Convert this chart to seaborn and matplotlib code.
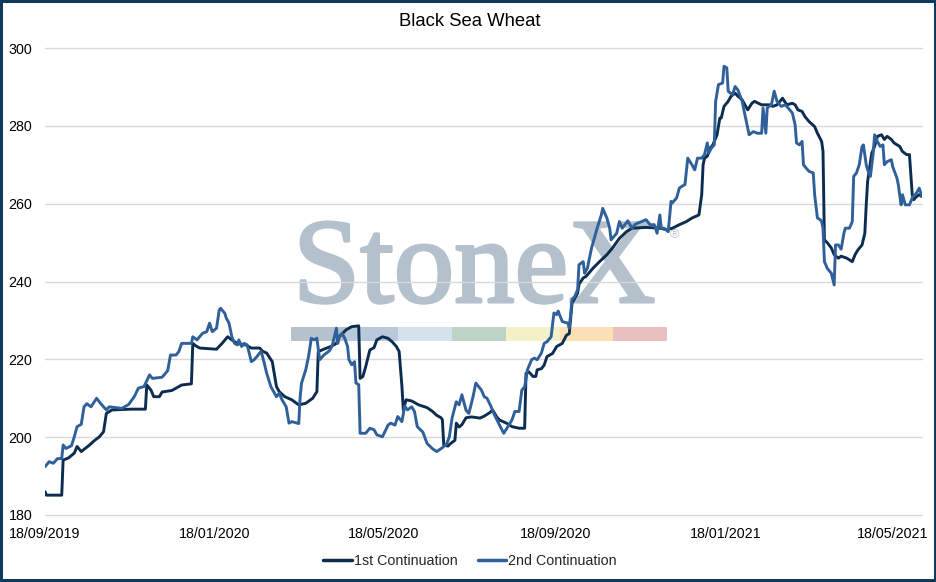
import matplotlib
matplotlib.use("Agg")
import matplotlib.pyplot as plt
import matplotlib.dates as mdates
import matplotlib.patheffects as pe
from matplotlib.patches import Rectangle
from matplotlib.lines import Line2D
import pandas as pd
import seaborn as sns

# ---------------- data ----------------
TITLE = "Black Sea Wheat"
SERIES_NAMES = ["1st Continuation", "2nd Continuation"]
START_DATE = "2019-09-18"          # day 0 of the day offsets below
END_DAY = 629                      # last day shown on the axis
TICK_DATES = ["2019-09-18", "2020-01-18", "2020-05-18",
              "2020-09-18", "2021-01-18", "2021-05-18"]
Y_TICKS = [180, 200, 220, 240, 260, 280, 300]

days_1st = [0, 1, 12, 13, 17, 21, 23, 26, 32, 35,
            39, 42, 44, 48, 62, 72, 73, 76, 78, 82,
            84, 91, 98, 105, 106, 108, 111, 123, 127, 131,
            134, 138, 144, 148, 154, 156, 159, 163, 166, 168,
            172, 177, 182, 187, 192, 195, 196, 202, 205, 209,
            211, 216, 220, 225, 226, 228, 230, 233, 236, 238,
            242, 246, 249, 252, 254, 256, 257, 259, 263, 268,
            274, 278, 281, 284, 285, 286, 289, 291, 294, 295,
            297, 299, 302, 306, 312, 315, 319, 321, 324, 326,
            331, 335, 340, 344, 345, 347, 350, 352, 353, 356,
            358, 360, 364, 367, 371, 374, 376, 378, 380, 382,
            383, 386, 388, 393, 398, 403, 407, 412, 417, 421,
            431, 441, 446, 450, 455, 460, 464, 469, 471, 472,
            473, 475, 477, 479, 482, 484, 485, 487, 490, 492,
            495, 497, 500, 502, 504, 507, 509, 511, 514, 518,
            520, 522, 525, 529, 532, 536, 538, 540, 543, 545,
            548, 552, 554, 557, 558, 559, 561, 564, 566, 569,
            571, 575, 579, 581, 583, 586, 588, 589, 590, 593,
            595, 597, 600, 602, 604, 607, 609, 613, 615, 618,
            620, 622, 623, 625, 627, 629]
price_1st = [186.0, 185.1, 185.1, 194.1, 194.7, 195.9, 197.6, 196.3, 198.0, 199.0,
             200.1, 201.4, 206.1, 207.0, 207.2, 207.2, 213.4, 212.1, 210.4, 210.4,
             211.6, 212.0, 213.4, 213.7, 224.1, 223.5, 222.9, 222.6, 224.1, 225.8,
             225.0, 224.1, 223.7, 222.9, 222.9, 222.1, 221.6, 219.4, 213.0, 211.7,
             210.4, 209.6, 208.3, 208.7, 210.0, 211.7, 222.0, 222.9, 223.3, 224.1,
             225.8, 227.6, 228.4, 228.6, 215.1, 215.6, 218.1, 222.4, 223.0, 225.0,
             225.8, 225.4, 224.5, 223.3, 222.0, 213.0, 207.0, 209.6, 209.3, 208.3,
             207.6, 206.6, 205.6, 205.0, 204.5, 198.0, 197.7, 198.4, 199.2, 203.6,
             202.6, 203.2, 205.0, 205.2, 204.9, 205.4, 206.3, 207.0, 205.2, 204.4,
             203.6, 202.7, 202.3, 202.3, 216.4, 216.8, 215.6, 215.6, 217.3, 217.6,
             218.5, 220.7, 221.5, 223.3, 224.1, 226.2, 226.6, 234.4, 235.7, 237.0,
             239.3, 240.9, 241.3, 243.4, 245.2, 246.9, 248.6, 251.1, 252.8, 253.7,
             253.9, 253.7, 253.3, 253.7, 254.6, 255.4, 256.3, 257.1, 262.3, 270.0,
             271.7, 272.2, 274.3, 275.1, 277.7, 282.0, 282.0, 285.0, 286.3, 287.6,
             288.4, 287.6, 286.7, 285.4, 284.1, 285.8, 286.3, 285.9, 285.4, 285.4,
             285.4, 285.0, 285.4, 287.1, 285.4, 285.8, 285.4, 284.1, 283.7, 282.4,
             281.1, 279.8, 278.1, 276.0, 273.4, 250.7, 250.0, 248.6, 246.9, 246.0,
             246.5, 246.0, 245.1, 246.9, 248.1, 249.4, 252.4, 259.7, 265.7, 273.0,
             274.7, 277.3, 277.7, 276.5, 277.3, 276.5, 275.6, 274.7, 273.4, 272.6,
             272.6, 262.3, 261.0, 261.8, 262.3, 261.8]

days_2nd = [0, 3, 6, 9, 12, 13, 15, 19, 21, 23,
            26, 28, 30, 33, 37, 40, 42, 44, 46, 55,
            60, 64, 67, 71, 75, 77, 84, 88, 90, 94,
            96, 98, 105, 106, 109, 113, 116, 118, 120, 123,
            125, 126, 129, 130, 132, 134, 136, 138, 139, 141,
            143, 145, 148, 150, 152, 155, 157, 159, 162, 166,
            168, 170, 173, 175, 177, 182, 183, 184, 187, 189,
            191, 193, 195, 197, 200, 204, 206, 209, 210, 211,
            213, 215, 217, 218, 220, 222, 223, 225, 226, 230,
            233, 236, 238, 242, 245, 246, 248, 251, 253, 256,
            258, 260, 263, 265, 267, 271, 274, 278, 281, 285,
            288, 290, 292, 295, 297, 299, 302, 304, 307, 309,
            313, 315, 317, 320, 322, 326, 329, 332, 335, 337,
            340, 342, 344, 346, 349, 351, 353, 356, 358, 360,
            363, 365, 367, 368, 371, 375, 376, 378, 380, 382,
            383, 386, 387, 389, 392, 394, 396, 399, 400, 403,
            405, 406, 410, 412, 414, 418, 421, 423, 425, 428,
            431, 434, 437, 439, 441, 442, 444, 447, 449, 450,
            453, 455, 457, 459, 461, 464, 466, 468, 471, 473,
            475, 476, 478, 480, 481, 483, 486, 487, 489, 490,
            493, 495, 497, 500, 503, 505, 508, 511, 514, 515,
            517, 518, 521, 523, 525, 528, 531, 533, 536, 538,
            539, 541, 543, 544, 546, 548, 551, 552, 554, 556,
            557, 558, 559, 560, 561, 564, 566, 567, 569, 571,
            573, 574, 577, 579, 580, 582, 584, 586, 587, 589,
            590, 592, 594, 595, 597, 599, 601, 602, 604, 607,
            608, 611, 612, 614, 615, 617, 620, 622, 623, 625,
            627, 629]
price_2nd = [192.4, 193.7, 193.3, 194.5, 194.5, 198.0, 197.1, 197.8, 200.1, 202.7,
             203.3, 207.8, 208.6, 207.8, 210.0, 208.6, 207.8, 207.0, 207.8, 207.4,
             208.4, 210.4, 212.6, 213.0, 216.0, 215.1, 215.4, 217.1, 221.1, 221.1,
             222.0, 224.1, 224.1, 225.8, 225.0, 226.7, 227.1, 229.3, 227.1, 228.0,
             232.7, 233.1, 231.8, 230.6, 229.3, 225.8, 224.1, 223.7, 225.0, 223.3,
             224.1, 223.7, 219.4, 219.9, 220.7, 222.1, 219.4, 216.4, 213.0, 210.4,
             211.3, 209.6, 207.8, 203.6, 204.0, 203.5, 210.4, 213.9, 217.3, 220.7,
             225.4, 225.0, 225.4, 219.9, 221.1, 222.2, 223.5, 228.0, 224.1, 225.8,
             226.7, 225.4, 223.3, 219.9, 218.6, 219.4, 213.9, 213.5, 201.0, 201.0,
             202.3, 201.9, 200.6, 200.1, 202.3, 203.1, 203.6, 203.1, 205.3, 204.0,
             208.0, 207.0, 207.8, 206.6, 202.7, 201.3, 198.4, 197.0, 196.3, 197.3,
             198.2, 200.1, 205.0, 209.1, 208.3, 210.9, 206.9, 206.1, 210.4, 213.9,
             212.1, 210.4, 210.0, 207.8, 206.0, 203.1, 201.0, 202.7, 204.5, 206.6,
             206.6, 212.1, 212.9, 217.3, 219.9, 220.3, 219.9, 221.6, 224.1, 224.5,
             225.8, 231.9, 231.5, 232.4, 229.7, 229.3, 228.0, 235.3, 236.2, 237.9,
             244.3, 245.1, 242.1, 243.4, 248.6, 251.1, 253.7, 257.1, 258.8, 256.3,
             253.7, 250.7, 252.4, 255.4, 253.7, 255.6, 253.7, 254.6, 255.0, 255.4,
             255.9, 254.6, 254.6, 252.4, 257.1, 253.7, 253.7, 252.8, 260.6, 260.2,
             261.5, 264.0, 264.5, 264.9, 271.7, 270.0, 268.7, 271.7, 271.7, 272.6,
             275.6, 273.0, 274.3, 275.1, 286.3, 290.6, 291.0, 295.3, 294.9, 288.9,
             288.0, 290.1, 289.2, 286.3, 281.1, 277.7, 278.5, 278.1, 278.1, 284.6,
             278.1, 284.6, 285.4, 288.9, 286.3, 285.0, 285.4, 284.6, 283.3, 280.3,
             275.6, 275.1, 276.0, 270.0, 269.1, 268.3, 267.9, 262.3, 256.3, 255.9,
             255.4, 253.7, 245.1, 244.3, 243.4, 242.1, 239.1, 249.4, 249.4, 248.3,
             252.4, 253.7, 253.7, 255.4, 267.0, 267.9, 270.0, 274.7, 275.1, 270.0,
             268.7, 267.0, 273.0, 277.7, 276.0, 274.7, 275.1, 270.0, 270.8, 271.3,
             269.5, 266.6, 264.9, 259.7, 262.3, 259.7, 259.7, 261.5, 262.0, 262.7,
             264.0, 261.8]

# ---------------- style ----------------
COLORS = ["#0c2d4f", "#30609a"]
WATERMARK_BAR = ["#b5c1cb", "#b9c8da", "#d4e2ee", "#bdd3c6",
                 "#f4f0c8", "#fbdfb5", "#e9c0bf"]
WM_COLOR = "#b4c0cb"

sns.set_theme(style="white")
plt.rcParams["font.family"] = ["Liberation Sans", "DejaVu Sans"]

start = pd.Timestamp(START_DATE)
df = pd.concat([
    pd.DataFrame({"date": start + pd.to_timedelta(days_1st, unit="D"),
                  "price": price_1st, "series": SERIES_NAMES[0]}),
    pd.DataFrame({"date": start + pd.to_timedelta(days_2nd, unit="D"),
                  "price": price_2nd, "series": SERIES_NAMES[1]}),
], ignore_index=True)

W, H = 937, 582
fig = plt.figure(figsize=(W / 100, H / 100), dpi=100, facecolor="white",
                 edgecolor="#0e3a5e", linewidth=2.9)
ax = fig.add_axes([45 / W, (H - 515) / H, (922 - 45) / W, (515 - 48) / H])
ax.set_axisbelow(True)

sns.lineplot(data=df, x="date", y="price", hue="series", hue_order=SERIES_NAMES,
             palette=COLORS, linewidth=2.1, estimator=None, sort=False,
             legend=False, ax=ax, zorder=3)

ax.set_xlim(start, start + pd.Timedelta(days=END_DAY))
ax.set_ylim(Y_TICKS[0], Y_TICKS[-1])
ax.set_yticks(Y_TICKS)
ax.set_xticks(pd.to_datetime(TICK_DATES))
ax.xaxis.set_major_formatter(mdates.DateFormatter("%d/%m/%Y"))
ax.grid(axis="y", color="#d9d9d9", linewidth=1.0)
ax.grid(axis="x", visible=False)
for gl in ax.get_ygridlines():
    gl.set_clip_on(False)
for s in ax.spines.values():
    s.set_visible(False)
ax.tick_params(length=0, labelsize=10.3, labelcolor="black")
ax.tick_params(axis="y", pad=9)
ax.tick_params(axis="x", pad=9)
ax.set_xlabel("")
ax.set_ylabel("")

# watermark (behind gridlines and data)
ax.text(293 / W, 1 - 302 / H, "StoneX", transform=fig.transFigure,
        fontfamily="Liberation Serif", fontsize=87,
        color=WM_COLOR, ha="left", va="baseline", zorder=0.2, clip_on=False,
        path_effects=[pe.withStroke(linewidth=2.2, foreground=WM_COLOR)])
ax.text(674 / W, 1 - 235 / H, "®", transform=fig.transFigure,
        fontsize=9, color=WM_COLOR, ha="center", va="center",
        zorder=0.2, clip_on=False)
seg_w = 53.7
for i, c in enumerate(WATERMARK_BAR):
    ax.add_patch(Rectangle(((291 + i * seg_w) / W, 1 - 341 / H), seg_w / W, 14 / H,
                           transform=fig.transFigure, facecolor=c, edgecolor="none",
                           zorder=0.2, clip_on=False))

fig.text(470 / W, 1 - 21 / H, TITLE, ha="center", va="center", fontsize=13.3,
         color="black")

handles = [Line2D([], [], color=c, linewidth=2.5) for c in COLORS]
fig.legend(handles, SERIES_NAMES, loc="center", bbox_to_anchor=(470 / W, 1 - 561 / H),
           ncol=2, frameon=False, fontsize=10.3, handlelength=2.0,
           handletextpad=0.15, columnspacing=1.4)

fig.savefig("out.png", dpi=100, facecolor=fig.get_facecolor(),
            edgecolor=fig.get_edgecolor())
